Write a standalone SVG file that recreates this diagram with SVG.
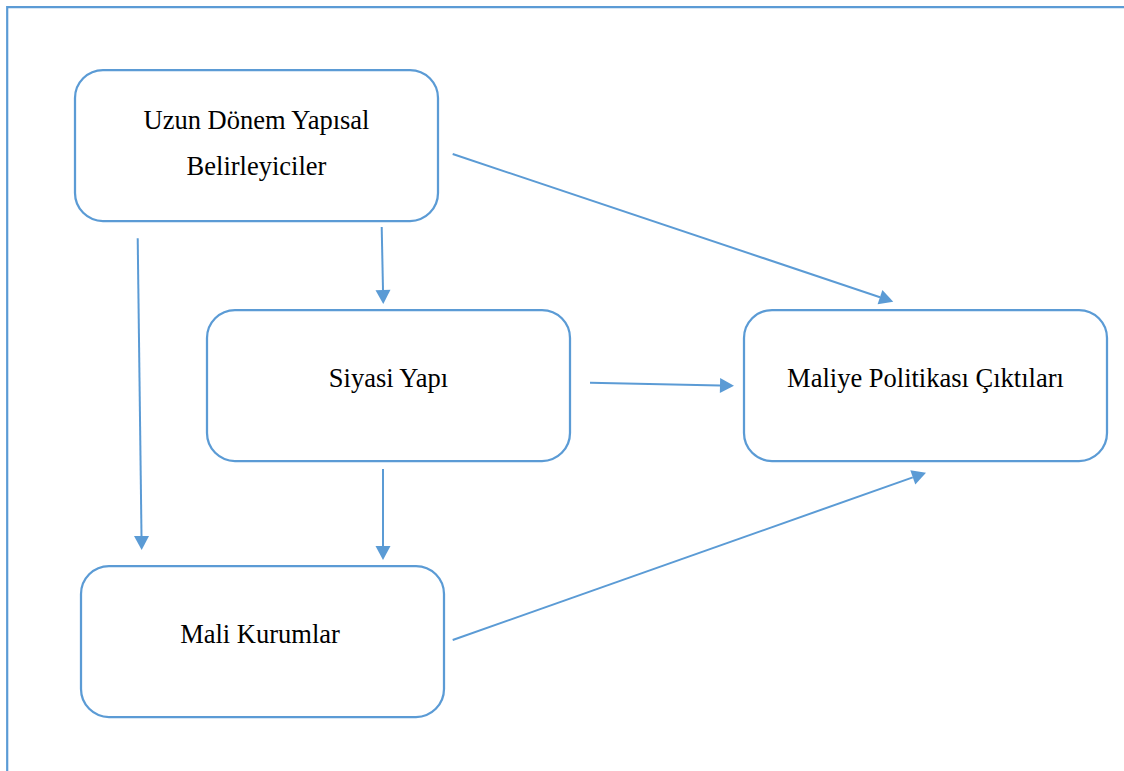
<svg xmlns="http://www.w3.org/2000/svg" width="1124" height="771" viewBox="0 0 1124 771">
  <style>
    .box { fill: #ffffff; stroke: #5B9BD5; stroke-width: 2.25; }
    .lbl { font-family: "Liberation Serif", "Times New Roman", serif; font-size: 26.5px; fill: #000000; text-anchor: middle; }
    .conn { stroke: #5B9BD5; stroke-width: 2; fill: none; marker-end: url(#arrow); }
    .frame { stroke: #5B9BD5; stroke-width: 2.2; fill: none; }
  </style>
  <defs>
    <marker id="arrow" markerUnits="userSpaceOnUse" markerWidth="15" markerHeight="16" refX="0" refY="7.5" orient="auto" overflow="visible">
      <path d="M0,0 L14,7.5 L0,15 z" fill="#5B9BD5"/>
    </marker>
  </defs>
  <rect width="1124" height="771" fill="#ffffff"/>
  <path class="frame" d="M7.2,771 V7.2 H1124"/>

  <g id="node-uzun">
    <rect class="box" x="75" y="70" width="363" height="151" rx="28" ry="28"/>
    <text class="lbl" x="256.5" y="129">Uzun Dönem Yapısal</text>
    <text class="lbl" x="256.5" y="175">Belirleyiciler</text>
  </g>
  <g id="node-siyasi">
    <rect class="box" x="207" y="310" width="363" height="151" rx="28" ry="28"/>
    <text class="lbl" x="388.5" y="387">Siyasi Yapı</text>
  </g>
  <g id="node-maliye">
    <rect class="box" x="744" y="310" width="363" height="151" rx="28" ry="28"/>
    <text class="lbl" x="925.5" y="387">Maliye Politikası Çıktıları</text>
  </g>
  <g id="node-mali">
    <rect class="box" x="81" y="566" width="363" height="151" rx="28" ry="28"/>
    <text class="lbl" x="260" y="643">Mali Kurumlar</text>
  </g>

  <g id="connectors">
    <line class="conn" x1="137.7" y1="238.3" x2="141.5" y2="536"/>
    <line class="conn" x1="381.7" y1="227" x2="383" y2="290"/>
    <line class="conn" x1="452.7" y1="154" x2="880" y2="297.2"/>
    <line class="conn" x1="590" y1="382.7" x2="720" y2="385.4"/>
    <line class="conn" x1="383" y1="469" x2="383" y2="546"/>
    <line class="conn" x1="452.7" y1="640" x2="912.8" y2="477.4"/>
  </g>
</svg>
